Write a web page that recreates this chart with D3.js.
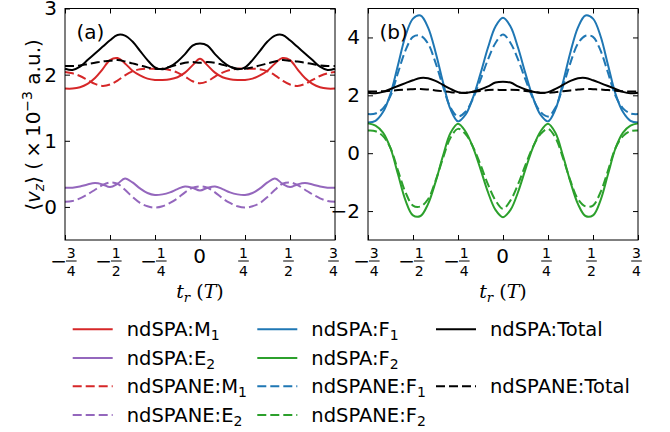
<!DOCTYPE html>
<html><head><meta charset="utf-8">
<script src="https://cdn.jsdelivr.net/npm/d3@7"></script>
<style>body{margin:0;background:#fff}svg{display:block}</style>
</head><body>
<svg id="c" width="670" height="432"></svg>
<script>
// time of return t_r (units of T)
const tr = [-0.75,-0.7083,-0.6667,-0.625,-0.5833,-0.5417,-0.5,-0.4583,-0.4167,-0.375,-0.3333,-0.2917,-0.25,-0.2083,-0.1667,-0.125,-0.0833,-0.0417,0,
            0.0417,0.0833,0.125,0.1667,0.2083,0.25,0.2917,0.3333,0.375,0.4167,0.4583,0.5,0.5417,0.5833,0.625,0.6667,0.7083,0.75];

const spaTotal   = [2.09,2.07,2.12,2.22,2.32,2.42,2.52,2.60,2.59,2.50,2.36,2.22,2.11,2.08,2.12,2.20,2.31,2.44,2.47,2.44,2.31,2.20,2.12,2.08,2.11,2.22,2.36,2.50,2.59,2.60,2.52,2.42,2.32,2.22,2.12,2.07,2.09];
const spaneTotal = [2.13,2.13,2.14,2.16,2.18,2.20,2.21,2.22,2.20,2.17,2.14,2.11,2.09,2.09,2.12,2.15,2.18,2.19,2.18,2.19,2.18,2.15,2.12,2.09,2.09,2.11,2.14,2.17,2.20,2.22,2.21,2.20,2.18,2.16,2.14,2.13,2.13];
const spaM1      = [1.79,1.79,1.81,1.86,1.95,2.08,2.22,2.25,2.17,2.06,1.99,1.94,1.92,1.92,1.93,1.96,2.03,2.14,2.24,2.14,2.03,1.96,1.93,1.92,1.92,1.94,1.99,2.06,2.17,2.25,2.22,2.08,1.95,1.86,1.81,1.79,1.79];
const spaE2      = [0.29,0.29,0.31,0.34,0.36,0.34,0.30,0.35,0.43,0.37,0.28,0.21,0.18,0.19,0.22,0.27,0.31,0.29,0.25,0.29,0.31,0.27,0.22,0.19,0.18,0.21,0.28,0.37,0.43,0.35,0.30,0.34,0.36,0.34,0.31,0.29,0.29];
const spaneM1    = [2.04,2.02,1.98,1.92,1.86,1.83,1.85,1.91,1.99,2.05,2.08,2.09,2.09,2.09,2.07,2.03,1.97,1.90,1.87,1.90,1.97,2.03,2.07,2.09,2.09,2.09,2.08,2.05,1.99,1.91,1.85,1.83,1.86,1.92,1.98,2.02,2.04];
const spaneE2    = [0.08,0.09,0.13,0.19,0.26,0.33,0.37,0.35,0.26,0.15,0.06,0.01,-0.01,0.01,0.06,0.13,0.22,0.29,0.31,0.29,0.22,0.13,0.06,0.01,-0.01,0.01,0.06,0.15,0.26,0.35,0.37,0.33,0.26,0.19,0.13,0.09,0.08];
const spaF1      = [1.06,1.12,1.42,2.05,3.05,4.05,4.65,4.76,4.35,3.50,2.45,1.52,1.10,1.33,1.92,2.75,3.65,4.38,4.68,4.38,3.65,2.75,1.92,1.33,1.10,1.52,2.45,3.50,4.35,4.76,4.65,4.05,3.05,2.05,1.42,1.12,1.06];
const spaF2      = [1.03,0.95,0.71,0.17,-0.73,-1.63,-2.15,-2.17,-1.76,-1.00,-0.09,0.70,1.02,0.75,0.20,-0.55,-1.35,-1.96,-2.21,-1.96,-1.35,-0.55,0.20,0.75,1.02,0.70,-0.09,-1.00,-1.76,-2.17,-2.15,-1.63,-0.73,0.17,0.71,0.95,1.03];
const spaneF1    = [1.35,1.37,1.55,1.98,2.78,3.55,4.02,4.06,3.79,3.13,2.31,1.58,1.27,1.43,1.89,2.54,3.24,3.81,4.10,3.81,3.24,2.54,1.89,1.43,1.27,1.58,2.31,3.13,3.79,4.06,4.02,3.55,2.78,1.98,1.55,1.37,1.35];
const spaneF2    = [0.78,0.76,0.59,0.18,-0.60,-1.35,-1.81,-1.84,-1.59,-0.96,-0.17,0.53,0.84,0.66,0.22,-0.40,-1.08,-1.63,-1.92,-1.63,-1.08,-0.40,0.22,0.66,0.84,0.53,-0.17,-0.96,-1.59,-1.84,-1.81,-1.35,-0.60,0.18,0.59,0.76,0.78];

const xTicks = [-0.75,-0.5,-0.25,0,0.25,0.5,0.75];
const xTickLabels = ["−3/4","−1/2","−1/4","0","1/4","1/2","3/4"];
const yTicksA = [0,1,2,3];
const yTicksB = [-2,0,2,4];

const C = {red:"#d62728", purple:"#9467bd", blue:"#1f77b4", green:"#2ca02c", black:"#000000"};
const DASH = "9,4";
const FONT = "DejaVu Sans";
const FS = 20, FSS = 14;

const svg = d3.select("#c");
const yTop = 8.5, yBot = 240;

function drawPanel(x, y, yTicks, series, label) {
  const [x0, x1] = x.range();
  const g = svg.append("g");
  const line = (vals) => d3.line().x((d,i) => x(tr[i])).y(d => y(d)).curve(d3.curveCatmullRom.alpha(0.5))(vals);
  series.forEach(s => {
    g.append("path").attr("d", line(s.v)).attr("fill","none").attr("stroke", s.c)
      .attr("stroke-width", 2).attr("stroke-dasharray", s.d ? DASH : null);
  });
  const ax = [
    g.append("g").attr("transform",`translate(0,${yBot})`).call(d3.axisBottom(x).tickValues(xTicks).tickSizeInner(-5).tickSizeOuter(0).tickFormat("")),
    g.append("g").attr("transform",`translate(0,${yTop})`).call(d3.axisTop(x).tickValues(xTicks).tickSizeInner(-5).tickSizeOuter(0).tickFormat("")),
    g.append("g").attr("transform",`translate(${x0},0)`).call(d3.axisLeft(y).tickValues(yTicks).tickSizeInner(-5).tickSizeOuter(0).tickPadding(8).tickFormat(d => d < 0 ? "−" + Math.abs(d) : String(d))),
    g.append("g").attr("transform",`translate(${x1},0)`).call(d3.axisRight(y).tickValues(yTicks).tickSizeInner(-5).tickSizeOuter(0).tickFormat(""))
  ];
  ax.forEach(a => { a.select(".domain").remove(); a.selectAll("line").attr("stroke","#000").attr("stroke-width",1);
    a.selectAll("text").attr("font-family", FONT).attr("font-size", FS).attr("fill","#000"); });
  g.append("rect").attr("x",x0).attr("y",yTop).attr("width",x1-x0).attr("height",yBot-yTop)
    .attr("fill","none").attr("stroke","#000").attr("stroke-width",1);
  // fraction tick labels
  xTicks.forEach((t,i) => {
    const lab = xTickLabels[i], px = x(t);
    if (lab === "0") {
      g.append("text").attr("x",px-0.5).attr("y",262.7).attr("text-anchor","middle")
        .attr("font-family",FONT).attr("font-size",FS).text("0");
      return;
    }
    const neg = lab.startsWith("−");
    const [num, den] = lab.replace("−","").split("/");
    const fx = neg ? px + 6.3 : px - 1.5;
    if (neg) g.append("text").attr("x",px+2).attr("y",267.5).attr("text-anchor","end")
        .attr("font-family",FONT).attr("font-size",FS).text("−");
    g.append("text").attr("x",fx).attr("y",258).attr("text-anchor","middle")
      .attr("font-family",FONT).attr("font-size",FSS).text(num);
    g.append("line").attr("x1",fx-5.3).attr("x2",fx+5.3).attr("y1",261).attr("y2",261)
      .attr("stroke","#000").attr("stroke-width",1);
    g.append("text").attr("x",fx).attr("y",275.5).attr("text-anchor","middle")
      .attr("font-family",FONT).attr("font-size",FSS).text(den);
  });
  // x axis label t_r (T)
  const xl = g.append("text").attr("x",(x0+x1)/2).attr("y",298).attr("text-anchor","middle")
    .attr("font-family","DejaVu Serif").attr("font-size",19);
  xl.append("tspan").attr("font-style","italic").text("t");
  xl.append("tspan").attr("font-style","italic").attr("font-size",13.3).attr("dy",4).text("r");
  xl.append("tspan").attr("dy",-4).text(" (");
  xl.append("tspan").attr("font-style","italic").text("T");
  xl.append("tspan").text(")");
  // panel label
  g.append("text").attr("x",x0+11.5).attr("y",38.5).attr("font-family",FONT).attr("font-size",FS).text(label);
}

const xA = d3.scaleLinear([-0.75,0.75],[65,335]);
const yA = d3.scaleLinear([-0.5,3],[yBot,yTop]);
const xB = d3.scaleLinear([-0.75,0.75],[368,638]);
const yB = d3.scaleLinear([-3,5],[yBot,yTop]);

drawPanel(xA, yA, yTicksA, [
  {v:spaM1,c:C.red},{v:spaE2,c:C.purple},{v:spaneM1,c:C.red,d:1},{v:spaneE2,c:C.purple,d:1},
  {v:spaTotal,c:C.black},{v:spaneTotal,c:C.black,d:1}], "(a)");
drawPanel(xB, yB, yTicksB, [
  {v:spaF1,c:C.blue},{v:spaF2,c:C.green},{v:spaneF1,c:C.blue,d:1},{v:spaneF2,c:C.green,d:1},
  {v:spaTotal,c:C.black},{v:spaneTotal,c:C.black,d:1}], "(b)");

// y axis label
const yl = svg.append("text").attr("transform","translate(40,125) rotate(-90)").attr("text-anchor","middle")
  .attr("font-family",FONT).attr("font-size",FS);
yl.append("tspan").text("⟨");
yl.append("tspan").attr("font-style","italic").text("v");
yl.append("tspan").attr("font-style","italic").attr("font-size",FSS).attr("dy",4).text("z");
yl.append("tspan").attr("dy",-4).text("⟩ (\u2009×\u200910");
yl.append("tspan").attr("font-size",FSS).attr("dy",-8).text("−3");
yl.append("tspan").attr("dy",8).text(" a.u.)");

// legend
const legend = [
  {col:0,row:0,c:C.red,d:0,t:"ndSPA:M",s:"1"},
  {col:0,row:1,c:C.purple,d:0,t:"ndSPA:E",s:"2"},
  {col:0,row:2,c:C.red,d:1,t:"ndSPANE:M",s:"1"},
  {col:0,row:3,c:C.purple,d:1,t:"ndSPANE:E",s:"2"},
  {col:1,row:0,c:C.blue,d:0,t:"ndSPA:F",s:"1"},
  {col:1,row:1,c:C.green,d:0,t:"ndSPA:F",s:"2"},
  {col:1,row:2,c:C.blue,d:1,t:"ndSPANE:F",s:"1"},
  {col:1,row:3,c:C.green,d:1,t:"ndSPANE:F",s:"2"},
  {col:2,row:0,c:C.black,d:0,t:"ndSPA:Total",s:""},
  {col:2,row:2,c:C.black,d:1,t:"ndSPANE:Total",s:""}
];
const colX = [72.7, 257.3, 436];
const rowY = [329.3, 358, 386.3, 415];
legend.forEach(e => {
  const lx = colX[e.col], ly = rowY[e.row];
  svg.append("line").attr("x1",lx).attr("x2",lx+40).attr("y1",ly).attr("y2",ly)
    .attr("stroke",e.c).attr("stroke-width",2).attr("stroke-dasharray",e.d?DASH:null);
  const t = svg.append("text").attr("x",lx+54).attr("y",ly+7).attr("font-family",FONT).attr("font-size",19.5);
  t.append("tspan").text(e.t);
  if (e.s) t.append("tspan").attr("font-size",FSS).attr("dy",4).text(e.s);
});
</script>
</body></html>
